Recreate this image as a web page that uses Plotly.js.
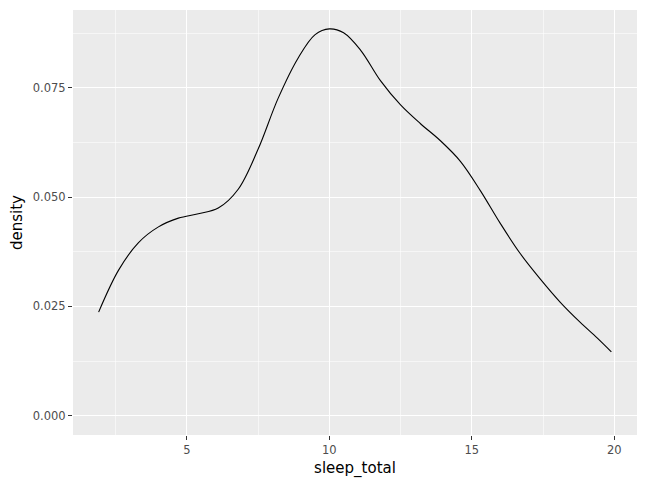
<!DOCTYPE html>
<html>
<head>
<meta charset="utf-8">
<script src="https://cdn.plot.ly/plotly-3.0.1.min.js"></script>
<style>html,body{margin:0;padding:0;background:#fff;}#chart{width:647px;height:487px;}</style>
</head>
<body>
<div id="chart"></div>
<script>
const sleepTotal = [1.9, 2.6, 3.3, 4.0, 4.7, 5.4, 6.1, 6.8, 7.5, 8.2, 8.9, 9.5, 10.0, 10.5, 11.1, 11.8, 12.5, 13.2, 13.9, 14.6, 15.3, 16.0, 16.7, 17.4, 18.1, 18.8, 19.4, 19.9];
const density = [0.0237, 0.0333, 0.0396, 0.0432, 0.0452, 0.0462, 0.0475, 0.0518, 0.0610, 0.0726, 0.0818, 0.0872, 0.0885, 0.0876, 0.0836, 0.0766, 0.0711, 0.0668, 0.0629, 0.0582, 0.0515, 0.0440, 0.0371, 0.0313, 0.0260, 0.0214, 0.0178, 0.0146];
const xTicks = [5, 10, 15, 20];
const yTicks = [0, 0.025, 0.05, 0.075];
const yTickLabels = ["0.000", "0.025", "0.050", "0.075"];

const font = "DejaVu Sans, sans-serif";
Plotly.newPlot("chart", [{
  x: sleepTotal, y: density, type: "scatter", mode: "lines",
  line: {color: "#000000", width: 1.1, shape: "spline", smoothing: 1},
  hoverinfo: "skip"
}], {
  width: 647, height: 487,
  margin: {l: 73, r: 10, t: 10, b: 52, pad: 0},
  paper_bgcolor: "#ffffff", plot_bgcolor: "#EBEBEB",
  showlegend: false,
  font: {family: font, color: "#4D4D4D", size: 12},
  xaxis: {
    range: [1.0, 20.8], tickmode: "array", tickvals: xTicks, ticktext: xTicks.map(String),
    showgrid: true, gridcolor: "#FFFFFF", gridwidth: 1.1, zeroline: false, showline: false,
    ticks: "outside", ticklen: 4, tickwidth: 1, tickcolor: "#333333",
    tickfont: {family: font, size: 11.5, color: "#4D4D4D"},
    minor: {tickmode: "array", tickvals: [2.5, 7.5, 12.5, 17.5], showgrid: true, gridcolor: "#FFFFFF", gridwidth: 0.55, ticks: ""},
    title: {text: "sleep_total", font: {family: font, size: 15, color: "#000000"}, standoff: 6}
  },
  yaxis: {
    range: [-0.00442, 0.09282], tickmode: "array", tickvals: yTicks, ticktext: yTickLabels,
    showgrid: true, gridcolor: "#FFFFFF", gridwidth: 1.1, zeroline: false, showline: false,
    ticks: "outside", ticklen: 4, tickwidth: 1, tickcolor: "#333333",
    tickfont: {family: font, size: 11.5, color: "#4D4D4D"},
    minor: {tickmode: "array", tickvals: [0.0125, 0.0375, 0.0625, 0.0875], showgrid: true, gridcolor: "#FFFFFF", gridwidth: 0.55, ticks: ""},
    title: {text: "density", font: {family: font, size: 15, color: "#000000"}, standoff: 6}
  }
}, {displayModeBar: false, staticPlot: true});
</script>
</body>
</html>
